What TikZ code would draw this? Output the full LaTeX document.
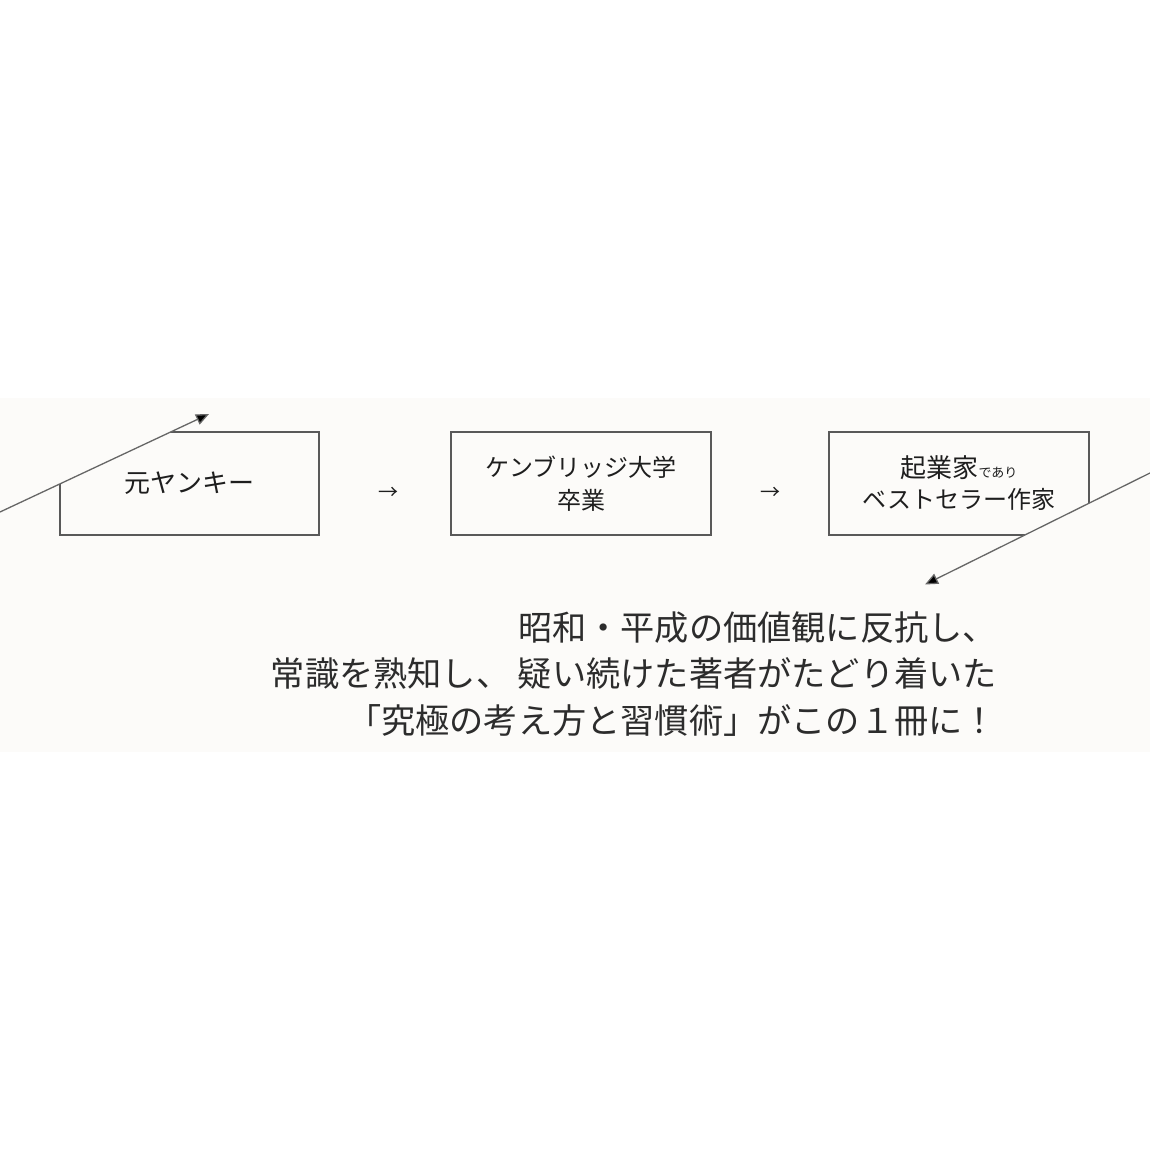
\documentclass[tikz,border=0pt]{standalone}
\usepackage{fontspec}
\usetikzlibrary{arrows.meta}
\newfontfamily\jp{Noto Sans CJK JP}
\definecolor{bandcol}{HTML}{FCFBF9}
\definecolor{boxline}{HTML}{595959}
\definecolor{txtdark}{HTML}{1E1E1E}
\definecolor{bodytxt}{HTML}{2C2C2C}
\tikzset{
  boxnode/.style={minimum width=259pt, minimum height=103pt, inner sep=0pt, text=txtdark, align=center, font=\jp\fontsize{24}{33}\selectfont},
  boxedge/.style={draw=boxline, line width=2pt},
  flowarrow/.style={font=\jp\fontsize{20}{20}\selectfont, text=txtdark, inner sep=0pt},
  diag/.style={draw=gray!80!black, line width=1.3pt, arrows={-{Triangle[length=13pt,width=11pt,fill=black]}}},
  bodytext/.style={font=\jp\fontsize{34.2}{46}\selectfont, text=bodytxt, align=right, inner sep=0pt}
}
\begin{document}
\begin{tikzpicture}[x=1pt,y=-1pt]
\useasboundingbox (0,0) rectangle (1150,1150);
\fill[white] (0,0) rectangle (1150,1150);
\fill[bandcol] (0,398) rectangle (1150,752);

% boxes
\node[boxnode] (b1) at (189.5,483.5) {\fontsize{26}{30}\selectfont 元ヤンキー};
\node[boxnode] (b2) at (581,483.5) {ケンブリッジ大学\\卒業};
\node[boxnode] (b3) at (959,483.5) {\fontsize{26}{33}\selectfont 起業家{\fontsize{13}{13}\selectfont であり}\\[-2pt]ベストセラー作家};

\begin{scope}
  \clip (0,512) -- (260,390.2) -- (420,390) -- (420,600) -- (0,600) -- cycle;
  \draw[boxedge] (b1.south west) rectangle (b1.north east);
\end{scope}
\draw[boxedge] (b2.south west) rectangle (b2.north east);
\begin{scope}
  \clip (780,400) -- (1150,400) -- (1150,473) -- (780,656.3) -- cycle;
  \draw[boxedge] (b3.south west) rectangle (b3.north east);
\end{scope}

% flow arrows
\node[flowarrow] (a1) at (388,493) {→};
\node[flowarrow] (a2) at (770,493) {→};

% diagonal connectors
\coordinate (s1) at (0,512);
\coordinate (e1) at (209,414);
\draw[diag] (s1) -- (e1);
\coordinate (s2) at (1150,473);
\coordinate (e2) at (925,584.5);
\draw[diag] (s2) -- (e2);

% body text
\node[bodytext, anchor=east] (t1) at (997,628) {昭和・平成の価値観に反抗し、};
\node[bodytext, anchor=east] (t2) at (997,673) {常識を熟知し、 疑い続けた著者がたどり着いた};
\node[bodytext, anchor=east] (t3) at (997,720) {「究極の考え方と習慣術」がこの１冊に！};
\end{tikzpicture}
\end{document}
